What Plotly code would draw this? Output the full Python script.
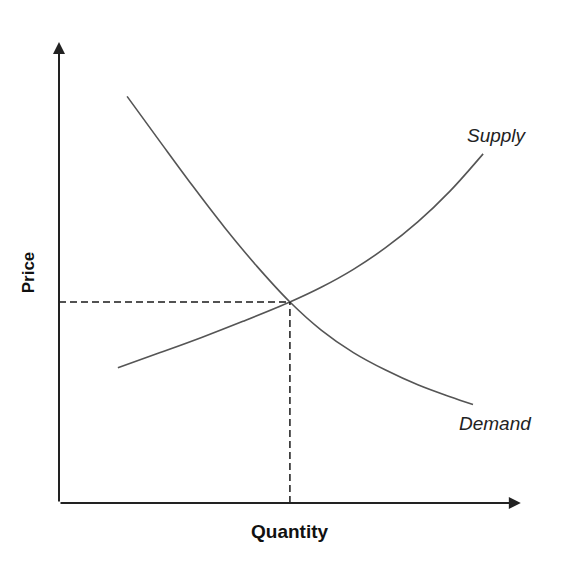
import plotly.graph_objects as go

# Data (Quantity, Price) in abstract units
supply_q = [1.28, 2.20, 3.10, 4.00, 5.02, 5.70, 6.40, 7.10, 7.80, 8.50, 9.22]
supply_p = [2.94, 3.27, 3.60, 3.95, 4.37, 4.69, 5.08, 5.55, 6.11, 6.78, 7.59]

demand_q = [1.48, 2.20, 2.90, 3.60, 4.30, 5.02, 5.70, 6.40, 7.10, 7.80, 8.50, 9.00]
demand_p = [8.84, 7.85, 6.90, 5.99, 5.15, 4.37, 3.76, 3.27, 2.89, 2.57, 2.31, 2.14]

eq_q = 5.02
eq_p = 4.37
axis_max_q = 10.04
axis_max_p = 10.02

x_label = "Quantity"
y_label = "Price"
supply_label = "Supply"
demand_label = "Demand"

fig = go.Figure()

curve_color = "#555555"
fig.add_trace(go.Scatter(x=supply_q, y=supply_p, mode="lines", line=dict(color=curve_color, width=1.6, shape="spline"), hoverinfo="skip"))
fig.add_trace(go.Scatter(x=demand_q, y=demand_p, mode="lines", line=dict(color=curve_color, width=1.6, shape="spline"), hoverinfo="skip"))

# dashed guides
fig.add_trace(go.Scatter(x=[0, eq_q], y=[eq_p, eq_p], mode="lines", line=dict(color="#1a1a1a", width=1.5, dash="7px,4px"), hoverinfo="skip"))
fig.add_trace(go.Scatter(x=[eq_q, eq_q], y=[0, eq_p], mode="lines", line=dict(color="#1a1a1a", width=1.5, dash="7px,4px"), hoverinfo="skip"))

# axes with arrows
fig.add_annotation(x=0, y=axis_max_p, ax=0, ay=0, xref="x", yref="y", axref="x", ayref="y",
                   showarrow=True, arrowhead=2, arrowsize=1.2, arrowwidth=2, arrowcolor="#222222", text="")
fig.add_annotation(x=axis_max_q, y=0, ax=0, ay=0, xref="x", yref="y", axref="x", ayref="y",
                   showarrow=True, arrowhead=2, arrowsize=1.2, arrowwidth=2, arrowcolor="#222222", text="")

fig.add_annotation(x=9.52, y=8.0, text="<i>" + supply_label + "</i>", showarrow=False,
                   font=dict(family="Liberation Sans, Arial", size=19, color="#222222"))
fig.add_annotation(x=9.48, y=1.72, text="<i>" + demand_label + "</i>", showarrow=False,
                   font=dict(family="Liberation Sans, Arial", size=19, color="#222222"))
fig.add_annotation(x=5.02, y=-0.61, text="<b>" + x_label + "</b>", showarrow=False,
                   font=dict(family="Liberation Sans, Arial", size=19, color="#111111"))
fig.add_annotation(x=-0.67, y=5.02, text="<b>" + y_label + "</b>", showarrow=False, textangle=-90,
                   font=dict(family="Liberation Sans, Arial", size=17, color="#111111"))

# page has an 8px body margin; compensate so the origin lands at (59, 503) on the page
W, H = 571, 561
ox, oy, s = 51, 495, 46
fig.update_layout(
    width=W, height=H,
    margin=dict(l=0, r=0, t=0, b=0),
    paper_bgcolor="white", plot_bgcolor="white",
    showlegend=False,
    xaxis=dict(range=[-ox / s, (W - ox) / s], visible=False, fixedrange=True),
    yaxis=dict(range=[(oy - H) / s, oy / s], visible=False, fixedrange=True),
)

fig.write_html("out.html")
